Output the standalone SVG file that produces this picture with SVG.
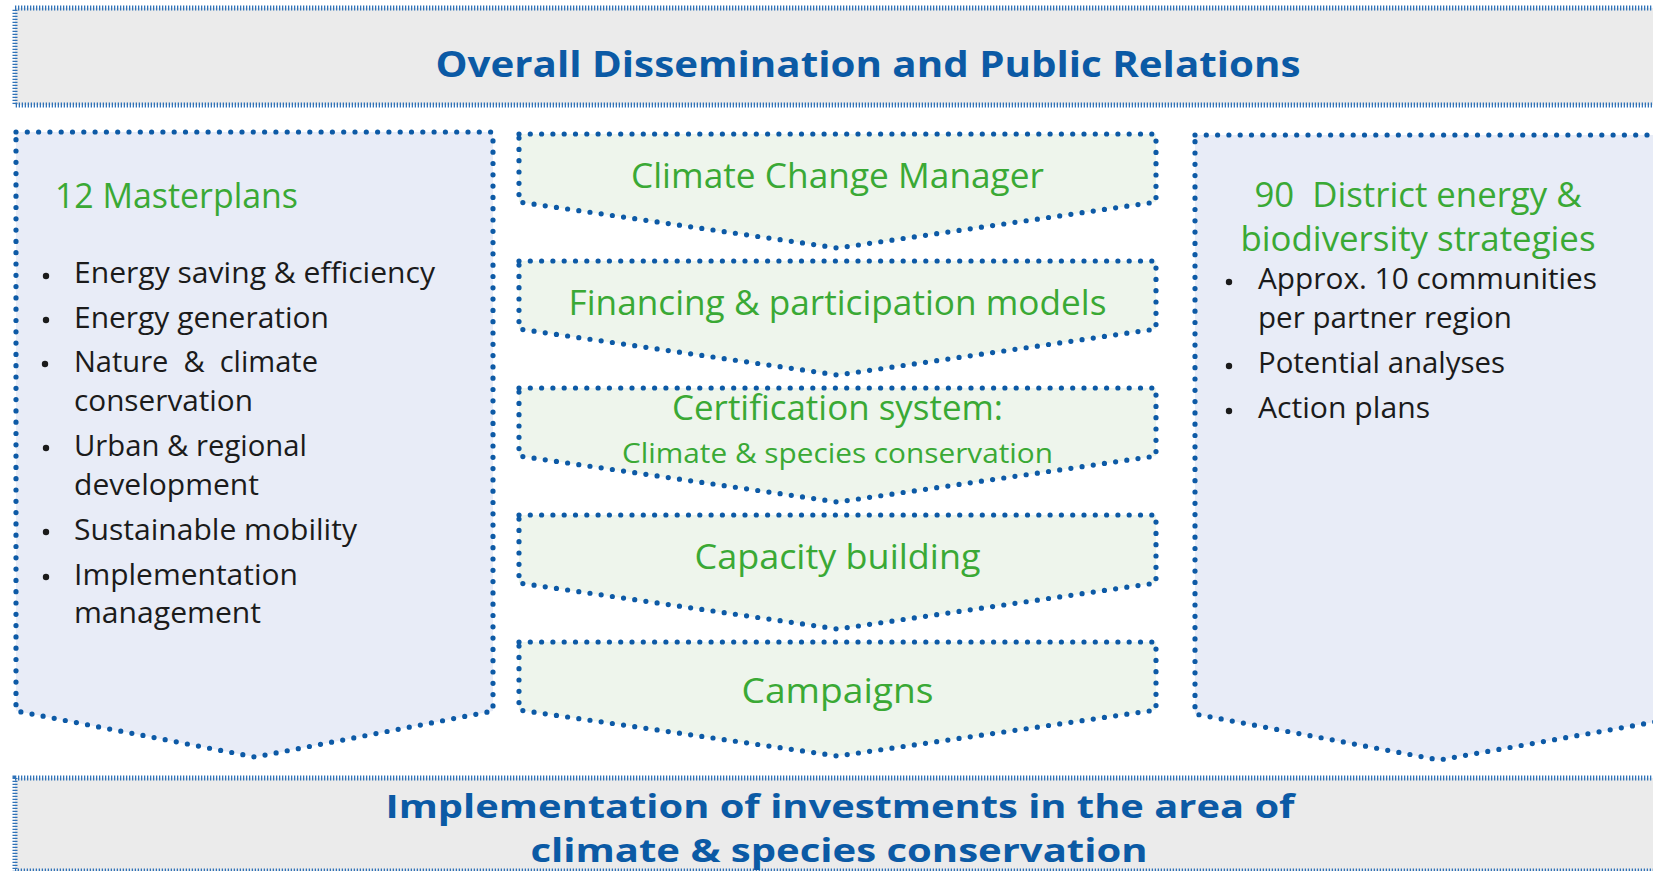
<svg xmlns="http://www.w3.org/2000/svg" width="1653" height="871" viewBox="0 0 1653 871">
<style>
.banner{fill:#ebebeb;stroke:#2f72b8;stroke-width:5;stroke-dasharray:1.3 1.7}
.dotted{stroke:#0d5aa6;stroke-width:5.2;stroke-dasharray:0 11.3;stroke-linecap:round;stroke-linejoin:round}
.bluebox{fill:#e8ecf7}
.greenbox{fill:#eef5ec}
.head{font-family:"Open Sans","Liberation Sans",sans-serif;font-weight:bold;fill:#0b5aa5;text-anchor:middle}
.gt{font-family:"Open Sans","Liberation Sans",sans-serif;fill:#3aa935}
.bt{font-family:"Open Sans","Liberation Sans",sans-serif;fill:#1b1b1b;font-size:29px}
.bul{fill:#1b1b1b}
</style>
<g id="top-banner">
<rect class="banner" x="15" y="8" width="1700" height="97"/>
<text class="head" x="868" y="77" font-size="36" textLength="865" lengthAdjust="spacingAndGlyphs">Overall Dissemination and Public Relations</text>
</g>
<g id="masterplans">
<path class="bluebox dotted" d="M16,132 H493 V711 L255,757 L16,711 Z"/>
<text class="gt" x="55" y="208" font-size="34" textLength="243" lengthAdjust="spacingAndGlyphs">12 Masterplans</text>
<g class="bul"><circle cx="46" cy="276" r="3.2"/><circle cx="46" cy="320" r="3.2"/><circle cx="45" cy="364" r="3.2"/><circle cx="46" cy="448" r="3.2"/><circle cx="46" cy="532" r="3.2"/><circle cx="46" cy="577" r="3.2"/></g>
<text class="bt" x="74" y="283" textLength="361" lengthAdjust="spacingAndGlyphs">Energy saving &amp; efficiency</text>
<text class="bt" x="74" y="328" textLength="255" lengthAdjust="spacingAndGlyphs">Energy generation</text>
<text class="bt" x="74" y="372" textLength="244" lengthAdjust="spacingAndGlyphs" xml:space="preserve">Nature  &amp;  climate</text>
<text class="bt" x="74" y="411" textLength="179" lengthAdjust="spacingAndGlyphs">conservation</text>
<text class="bt" x="74" y="456" textLength="233" lengthAdjust="spacingAndGlyphs">Urban &amp; regional</text>
<text class="bt" x="74" y="495" textLength="185" lengthAdjust="spacingAndGlyphs">development</text>
<text class="bt" x="74" y="540" textLength="283" lengthAdjust="spacingAndGlyphs">Sustainable mobility</text>
<text class="bt" x="74" y="585" textLength="224" lengthAdjust="spacingAndGlyphs">Implementation</text>
<text class="bt" x="74" y="623" textLength="187" lengthAdjust="spacingAndGlyphs">management</text>
</g>
<g id="climate-change-manager">
<path class="greenbox dotted" d="M519,134 H1156 V202 L837.5,248 L519,202 Z"/>
<text class="gt" x="837.5" y="188" font-size="34" text-anchor="middle" textLength="413" lengthAdjust="spacingAndGlyphs">Climate Change Manager</text>
</g>
<g id="financing">
<path class="greenbox dotted" d="M519,261 H1156 V329 L837.5,375 L519,329 Z"/>
<text class="gt" x="837.5" y="315" font-size="34" text-anchor="middle" textLength="538" lengthAdjust="spacingAndGlyphs">Financing &amp; participation models</text>
</g>
<g id="certification">
<path class="greenbox dotted" d="M519,388 H1156 V456 L837.5,502 L519,456 Z"/>
<text class="gt" x="837.5" y="420" font-size="34" text-anchor="middle" textLength="331" lengthAdjust="spacingAndGlyphs">Certification system:</text>
<text class="gt" x="837.5" y="463" font-size="28" text-anchor="middle" textLength="431" lengthAdjust="spacingAndGlyphs">Climate &amp; species conservation</text>
</g>
<g id="capacity-building">
<path class="greenbox dotted" d="M519,515 H1156 V583 L837.5,629 L519,583 Z"/>
<text class="gt" x="837.5" y="569" font-size="34" text-anchor="middle" textLength="286" lengthAdjust="spacingAndGlyphs">Capacity building</text>
</g>
<g id="campaigns">
<path class="greenbox dotted" d="M519,642 H1156 V710 L837.5,756 L519,710 Z"/>
<text class="gt" x="837.5" y="703" font-size="34" text-anchor="middle" textLength="192" lengthAdjust="spacingAndGlyphs">Campaigns</text>
</g>
<g id="district-strategies">
<path class="bluebox dotted" d="M1195,135 H1700 V714 L1439,760 L1195,714 Z"/>
<text class="gt" x="1418" y="207" font-size="34" text-anchor="middle" textLength="327" lengthAdjust="spacingAndGlyphs" xml:space="preserve">90  District energy &amp;</text>
<text class="gt" x="1418" y="251" font-size="34" text-anchor="middle" textLength="355" lengthAdjust="spacingAndGlyphs">biodiversity strategies</text>
<g class="bul"><circle cx="1229" cy="282" r="3.2"/><circle cx="1229" cy="366" r="3.2"/><circle cx="1229" cy="411" r="3.2"/></g>
<text class="bt" x="1258" y="289" textLength="339" lengthAdjust="spacingAndGlyphs">Approx. 10 communities</text>
<text class="bt" x="1258" y="328" textLength="254" lengthAdjust="spacingAndGlyphs">per partner region</text>
<text class="bt" x="1258" y="373" textLength="247" lengthAdjust="spacingAndGlyphs">Potential analyses</text>
<text class="bt" x="1258" y="418" textLength="172" lengthAdjust="spacingAndGlyphs">Action plans</text>
</g>
<g id="bottom-banner">
<rect class="banner" x="15" y="778" width="1700" height="93"/>
<text class="head" x="840" y="818" font-size="32" textLength="909" lengthAdjust="spacingAndGlyphs">Implementation of investments in the area of</text>
<text class="head" x="839" y="862" font-size="32" textLength="617" lengthAdjust="spacingAndGlyphs">climate &amp; species conservation</text>
</g>
<g id="connectors"/>
</svg>
